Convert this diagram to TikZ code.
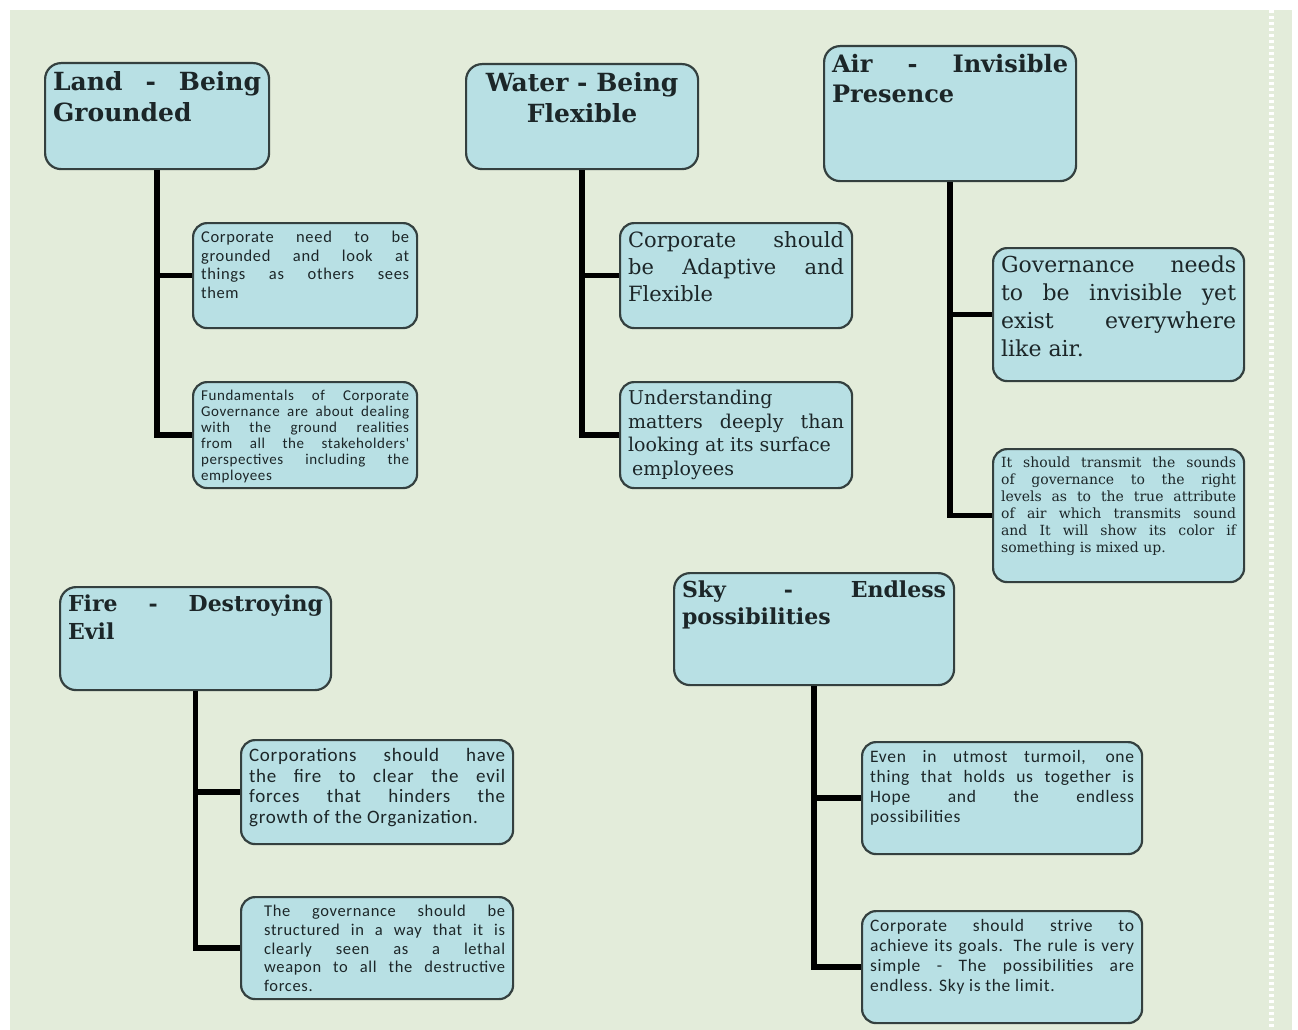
\documentclass[tikz,border=0pt]{standalone}
\usepackage{fontspec}
\setmainfont{DejaVu Serif}
\newfontfamily\bodysans[LetterSpace=4]{Carlito}
\usepackage{xcolor}
\usepackage{tikz}
\definecolor{page}{HTML}{E3ECDA}
\definecolor{panel}{HTML}{B8E0E4}
\definecolor{edge}{HTML}{34403F}
\definecolor{ink}{HTML}{1C2628}
\hbadness=10000
\newcommand{\boxbody}[3]{\begin{minipage}[c][#1][t]{#2}#3\end{minipage}}
\tikzset{
  topic/.style={draw=edge, fill=panel, line width=2.2pt, rounded corners=16pt,
    inner sep=8pt, anchor=north west, text=ink, font=\bfseries},
  leaf/.style={draw=edge, fill=panel, line width=2.2pt, rounded corners=14pt,
    inner sep=8pt, anchor=north west, text=ink},
  stem/.style={draw=black, line width=5.5pt}
}

\begin{document}
\begin{tikzpicture}[x=1pt, y=-1pt]
  \useasboundingbox (0,0) rectangle (1298,1030);
  \fill[page] (10,10) rectangle (1292,1030);
  \draw[white, line width=5pt, dash pattern=on 3pt off 3pt] (1271,10) -- (1271,1030);

  % element headings
  \node[topic] (land) at (44,62)
    {\boxbody{90pt}{208pt}{\fontsize{25}{31}\selectfont Land - Being\linebreak Grounded}};
  \node[topic] (water) at (465,63)
    {\boxbody{89pt}{216pt}{\centering\fontsize{25}{31}\selectfont Water - Being\\ Flexible\par}};
  \node[topic] (air) at (823,45)
    {\boxbody{119pt}{236pt}{\fontsize{24}{30}\selectfont Air - Invisible\linebreak Presence}};
  \node[topic] (fire) at (59,586)
    {\boxbody{87pt}{255pt}{\fontsize{22}{28}\selectfont Fire - Destroying\linebreak Evil}};
  \node[topic] (sky) at (673,572)
    {\boxbody{96pt}{264pt}{\fontsize{22}{27}\selectfont Sky - Endless\linebreak possibilities}};

  % land
  \node[leaf] (land1) at (192,222)
    {\boxbody{89pt}{208pt}{\bodysans\fontsize{16.5}{18.5}\selectfont Corporate need to be\linebreak grounded and look at\linebreak things as others sees\linebreak them}};
  \node[leaf] (land2) at (192,381)
    {\boxbody{90pt}{208pt}{\bodysans\fontsize{15}{16}\selectfont Fundamentals of Corporate\linebreak Governance are about dealing\linebreak with the ground realities\linebreak from all the stakeholders'\linebreak perspectives including the\linebreak employees}};

  % water
  \node[leaf] (water1) at (619,222)
    {\boxbody{89pt}{216pt}{\fontsize{21}{27}\selectfont Corporate should\linebreak be Adaptive and\linebreak Flexible}};
  \node[leaf] (water2) at (619,381)
    {\boxbody{90pt}{216pt}{\fontsize{19}{23.5}\selectfont Understanding\\ matters deeply than\linebreak looking at its surface\\ \hspace*{4pt}employees}};

  % air
  \node[leaf] (air1) at (992,247)
    {\boxbody{117pt}{235pt}{\fontsize{22}{28}\selectfont Governance needs\linebreak to be invisible yet\linebreak exist everywhere\linebreak like air.}};
  \node[leaf] (air2) at (992,448)
    {\boxbody{117pt}{235pt}{\fontsize{14}{17}\selectfont It should transmit the sounds\linebreak of governance to the right\linebreak levels as to the true attribute\linebreak of air which transmits sound\linebreak and It will show its color if\linebreak something is mixed up.}};

  % fire
  \node[leaf] (fire1) at (240,739)
    {\boxbody{88pt}{256pt}{\bodysans\fontsize{19}{20.7}\selectfont Corporations should have\linebreak the fire to clear the evil\linebreak forces that hinders the\linebreak growth of the Organization.}};
  \node[leaf] (fire2) at (240,896)
    {\boxbody{86pt}{256pt}{\leftskip=15pt\bodysans\fontsize{16.5}{18.8}\selectfont The governance should be\linebreak structured in a way that it is\linebreak clearly seen as a lethal\linebreak weapon to all the destructive\linebreak forces.}};

  % sky
  \node[leaf] (sky1) at (861,741)
    {\boxbody{96pt}{264pt}{\bodysans\fontsize{17.5}{20}\selectfont Even in utmost turmoil, one\linebreak thing that holds us together is\linebreak Hope and the endless\linebreak possibilities}};
  \node[leaf] (sky2) at (861,910)
    {\boxbody{96pt}{264pt}{\bodysans\fontsize{17.5}{20}\selectfont Corporate should strive to\linebreak achieve its goals. The rule is very\linebreak simple - The possibilities are\linebreak endless. Sky is the limit.}};

  % stems
  \draw[stem] (land.south) |- (land2.west);
  \draw[stem] (land.south |- land1.west) -- (land1.west);
  \draw[stem] (water.south) |- (water2.west);
  \draw[stem] (water.south |- water1.west) -- (water1.west);
  \draw[stem] (air.south) |- (air2.west);
  \draw[stem] (air.south |- air1.west) -- (air1.west);
  \draw[stem] (fire.south) |- (fire2.west);
  \draw[stem] (fire.south |- fire1.west) -- (fire1.west);
  \draw[stem] (sky.south) |- (sky2.west);
  \draw[stem] (sky.south |- sky1.west) -- (sky1.west);
\end{tikzpicture}
\end{document}
